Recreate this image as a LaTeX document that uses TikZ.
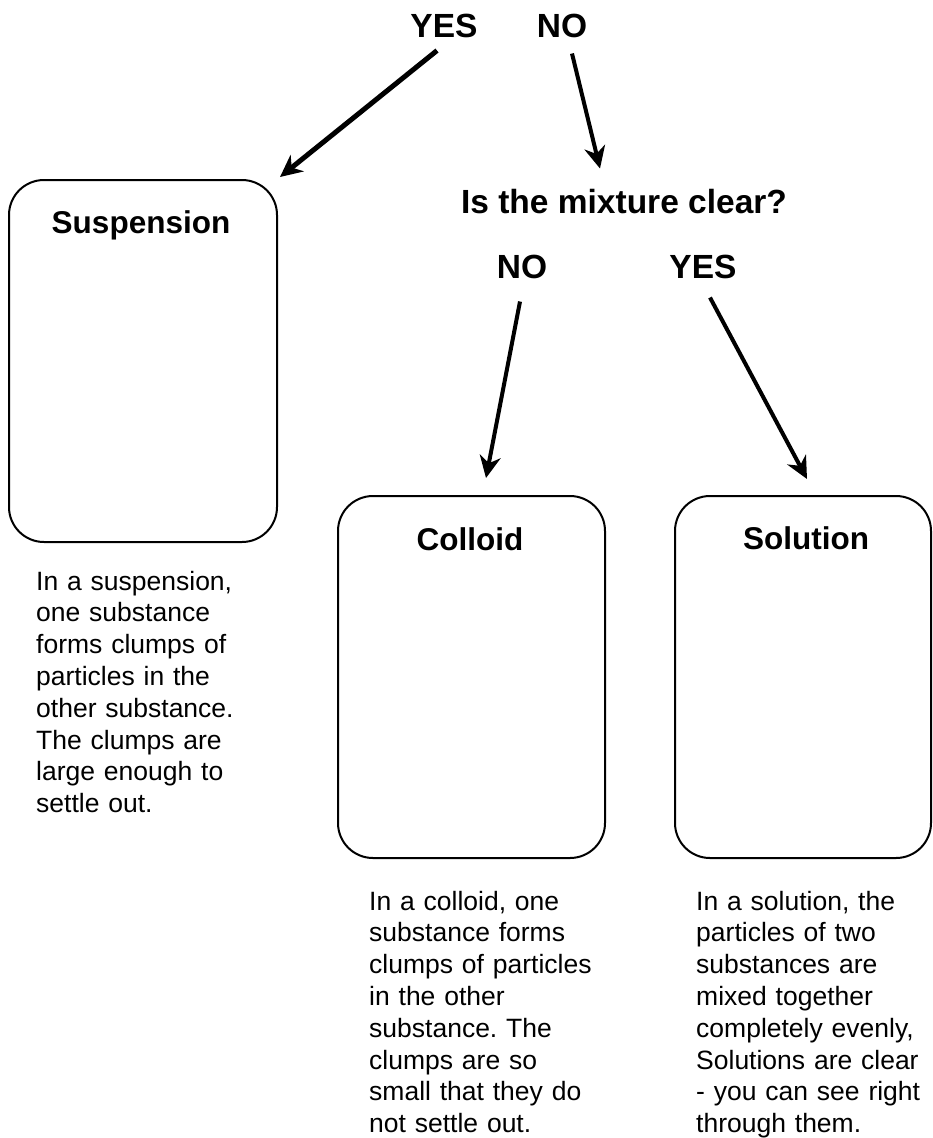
\documentclass[tikz,border=0pt]{standalone}
\usepackage{fontspec}
\setmainfont{Liberation Sans}
\frenchspacing
\usepackage{tikz}
\usetikzlibrary{arrows.meta}
\tikzstyle{answer} = [inner sep = 0pt, anchor = base, font = \bfseries\fontsize{33.5}{40}\selectfont]
\tikzstyle{title} = [inner sep = 0pt, anchor = base, font = \bfseries\fontsize{31.5}{38}\selectfont]
\tikzstyle{box} = [rectangle, rounded corners = 35pt, minimum height = 362pt, draw = black, line width = 2pt, inner sep = 0pt, outer sep = 0pt]
\tikzstyle{note} = [anchor = base west, inner sep = 0pt, text width = 255pt, align = left, font = \fontsize{26.5}{31.8}\selectfont]
\tikzstyle{arrow} = [line width = 4pt, ->, > = {Stealth[length = 22pt, width = 21pt, inset = 7pt]}]

\begin{document}
\begin{tikzpicture}[x = 1pt, y = -1pt]
\useasboundingbox (0, 0) rectangle (932, 1138);

%NODES
\node (yesA) [answer] at (444, 37) {YES};
\node (noA) [answer] at (562, 37) {NO};
\node (question) [answer] at (624, 213) {Is the mixture clear?};
\node (noB) [answer] at (522, 278) {NO};
\node (yesB) [answer] at (703, 278) {YES};

\node (suspension) [box, minimum width = 268pt] at (143, 361) {};
\node (colloid) [box, minimum width = 267pt] at (471.5, 677) {};
\node (solution) [box, minimum width = 256pt] at (803, 677) {};

\node (suspensiontitle) [title] at (141, 233) {Suspension};
\node (colloidtitle) [title] at (470, 550) {Colloid};
\node (solutiontitle) [title] at (806, 549) {Solution};

\node (suspensionnote) [note] at (36, 590) {In a suspension,\\ one substance\\ forms clumps of\\ particles in the\\ other substance.\\ The clumps are\\ large enough to\\ settle out.};
\node (colloidnote) [note] at (369, 910) {In a colloid, one\\ substance forms\\ clumps of particles\\ in the other\\ substance. The\\ clumps are so\\ small that they do\\ not settle out.};
\node (solutionnote) [note] at (696, 910) {In a solution, the\\ particles of two\\ substances are\\ mixed together\\ completely evenly,\\ Solutions are clear\\ - you can see right\\ through them.};

%ARROWS
\draw [arrow, line width = 5pt] ([xshift = -7pt, yshift = -13pt]yesA.south) -- ([xshift = 3pt, yshift = 3pt]suspension.north east);
\draw [arrow] ([xshift = 10pt, yshift = -16pt]noA.south) -- ([xshift = -24pt, yshift = 20pt]question.north);
\draw [arrow] ([xshift = -2pt, yshift = -23pt]noB.south) -- ([xshift = 14.5pt, yshift = 18pt]colloid.north);
\draw [arrow] ([xshift = 7pt, yshift = -19pt]yesB.south) -- ([xshift = 4pt, yshift = 17pt]solution.north);

\end{tikzpicture}
\end{document}
